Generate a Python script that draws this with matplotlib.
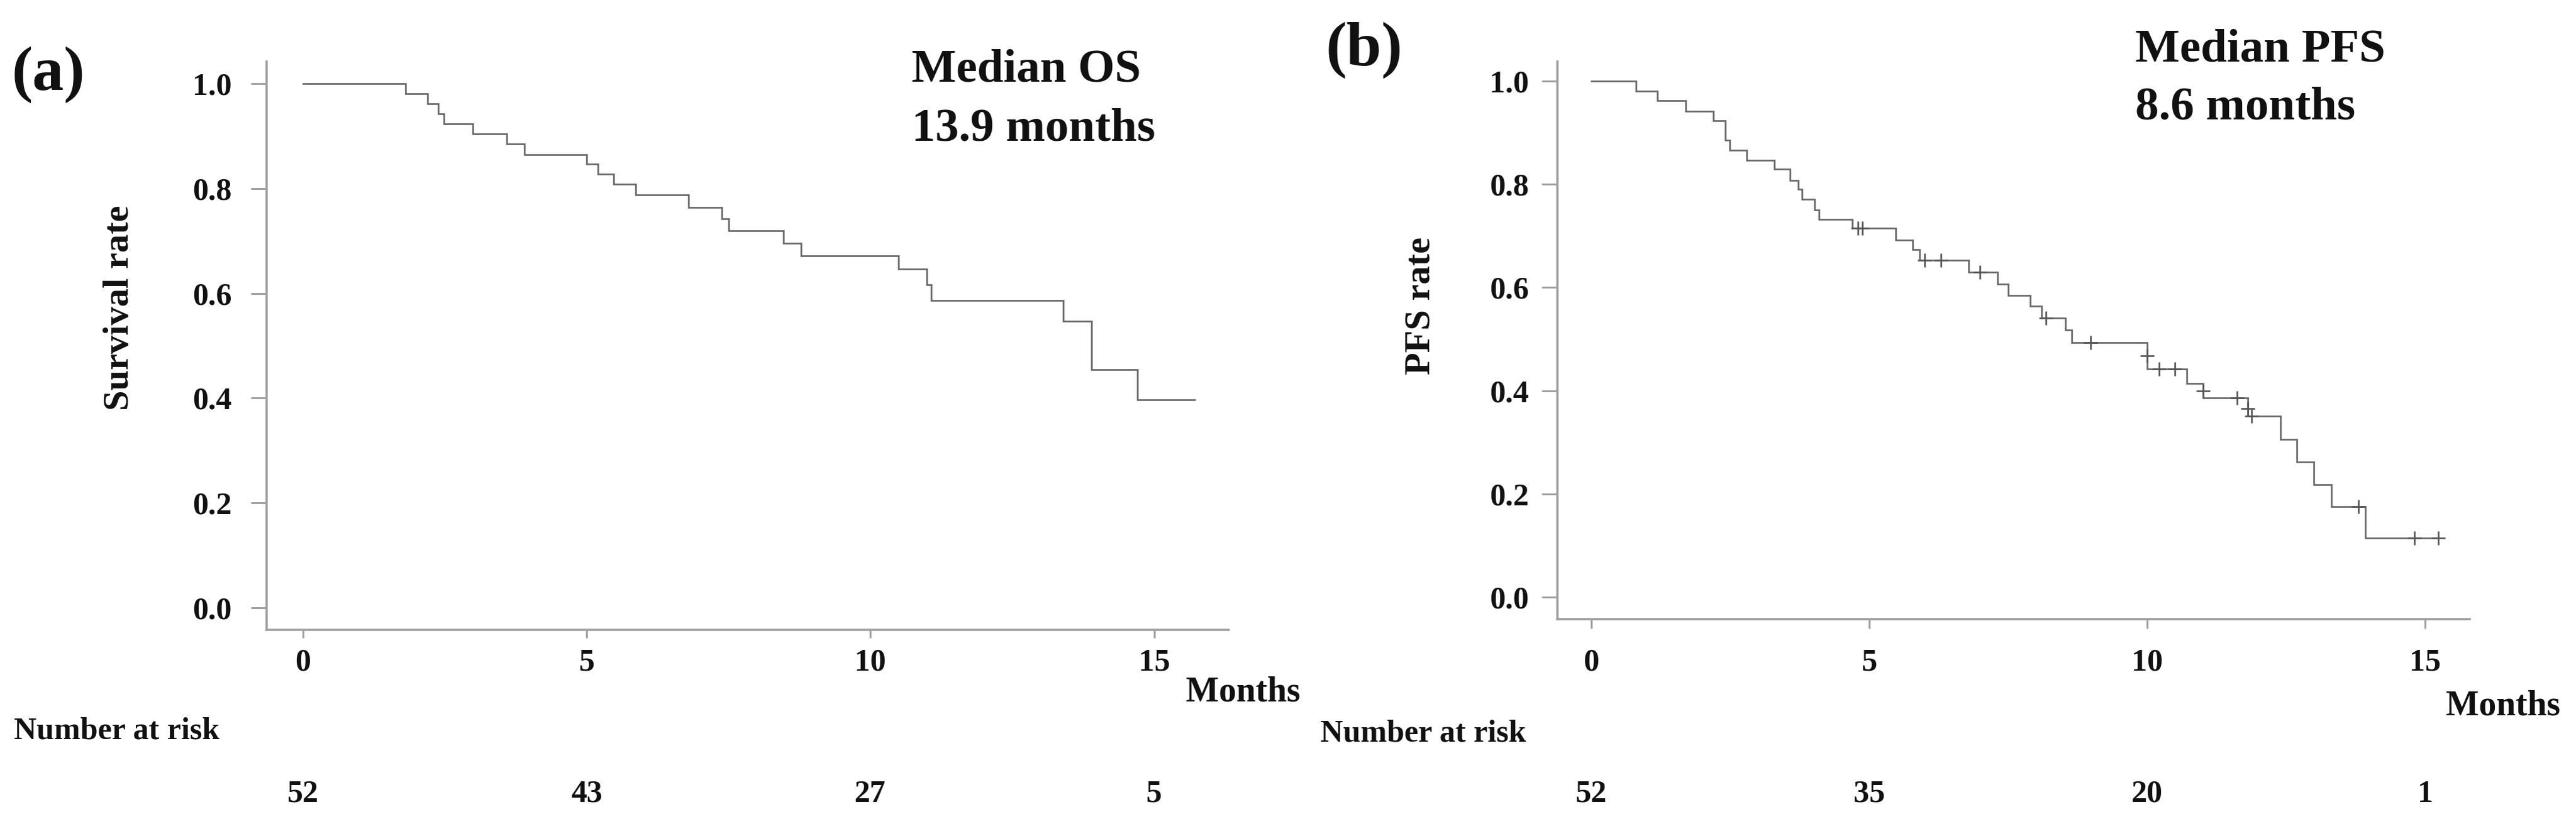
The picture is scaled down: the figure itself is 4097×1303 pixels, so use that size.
import matplotlib
matplotlib.use("Agg")
import matplotlib.pyplot as plt
import matplotlib.transforms as mtransforms

# ---------------- data ----------------
os_times = [0, 1.81, 2.20, 2.39, 2.49, 3.00, 3.59, 3.90, 5.00, 5.20, 5.48, 5.86,
            6.79, 7.38, 7.50, 8.47, 8.78, 10.50, 10.99, 11.07, 13.40, 13.89, 14.70]
os_surv = [1.0, 0.981, 0.962, 0.942, 0.923, 0.904, 0.885, 0.865, 0.846, 0.827, 0.808, 0.788,
           0.764, 0.742, 0.720, 0.695, 0.671, 0.646, 0.616, 0.586, 0.547, 0.455, 0.397]
os_end = 15.71

pfs_times = [0, 0.80, 1.19, 1.70, 2.19, 2.41, 2.49, 2.79, 3.29, 3.57, 3.72, 3.79, 4.01, 4.09,
             4.69, 5.48, 5.78, 5.90, 6.79, 7.31, 7.50, 7.89, 8.10, 8.53, 8.64, 10.00, 10.71,
             11.01, 11.81, 12.40, 12.69, 13.00, 13.31, 13.92]
pfs_surv = [1.0, 0.981, 0.962, 0.942, 0.923, 0.885, 0.866, 0.846, 0.829, 0.807, 0.790, 0.771,
            0.750, 0.732, 0.715, 0.692, 0.673, 0.653, 0.630, 0.607, 0.585, 0.564, 0.541, 0.518,
            0.493, 0.442, 0.414, 0.386, 0.351, 0.306, 0.262, 0.218, 0.175, 0.115]
pfs_end = 15.23

pfs_cens_t = [4.80, 4.87, 6.00, 6.29, 6.99, 8.18, 8.98, 10.00, 10.21, 10.50, 11.01, 11.61,
              11.81, 11.88, 13.80, 14.80, 15.23]
pfs_cens_s = [0.715, 0.715, 0.653, 0.653, 0.630, 0.541, 0.493, 0.468, 0.442, 0.442, 0.400, 0.386,
              0.366, 0.351, 0.175, 0.115, 0.115]

x_ticks = [0, 5, 10, 15]
y_ticks = [0.0, 0.2, 0.4, 0.6, 0.8, 1.0]
y_ticklabels = ["0.0", "0.2", "0.4", "0.6", "0.8", "1.0"]

risk_times = [0, 5, 10, 15]
risk_os = [52, 43, 27, 5]
risk_pfs = [52, 35, 20, 1]

median_os = "13.9"
median_pfs = "8.6"

# ---------------- layout ----------------
W, H = 4097, 1303
DPI = 100
plt.rcParams['font.family'] = ['Liberation Serif', 'DejaVu Serif']
plt.rcParams['font.weight'] = 'bold'

fig = plt.figure(figsize=(W / DPI, H / DPI), dpi=DPI)
fig.patch.set_facecolor('white')

def fx(x):
    return x / W

def fy(y):
    return 1 - y / H

CURVE = '#666666'
SPINE = '#a0a0a0'
TXT = '#111111'

def make_axes(l, r, t, b, xlim, ylim):
    ax = fig.add_axes([fx(l), fy(b), fx(r) - fx(l), fy(t) - fy(b)])
    ax.set_xlim(*xlim)
    ax.set_ylim(*ylim)
    for s in ['top', 'right']:
        ax.spines[s].set_visible(False)
    for s in ['left', 'bottom']:
        ax.spines[s].set_color(SPINE)
        ax.spines[s].set_linewidth(2.6)
    ax.set_xticks(x_ticks)
    ax.set_xticklabels([str(v) for v in x_ticks])
    ax.set_yticks(y_ticks)
    ax.set_yticklabels(y_ticklabels)
    for lab in ax.get_xticklabels() + ax.get_yticklabels():
        lab.set_fontsize(36)
        lab.set_fontweight('bold')
        lab.set_color(TXT)
    ax.set_facecolor('white')
    return ax

# Panel (a)
axa = make_axes(424, 1954, 98, 1002, (-0.637, 16.31), (-0.042, 1.042))
axa.tick_params(axis='y', length=18, width=2.2, color=SPINE, pad=22)
axa.tick_params(axis='x', length=9.5, width=2.2, color=SPINE, pad=11.5)

# Panel (b)
axb = make_axes(2477, 3928, 98, 985, (-0.61, 15.80), (-0.0426, 1.0378))
axb.tick_params(axis='y', length=18, width=2.2, color=SPINE, pad=15)
axb.tick_params(axis='x', length=10.5, width=2.2, color=SPINE, pad=23)

# curves
axa.step(os_times + [os_end], os_surv + [os_surv[-1]], where='post',
         color=CURVE, lw=1.9, solid_joinstyle='miter')
axb.step(pfs_times + [pfs_end], pfs_surv + [pfs_surv[-1]], where='post',
         color=CURVE, lw=1.9, solid_joinstyle='miter')
axb.plot(pfs_cens_t, pfs_cens_s, linestyle='none', marker='+', markersize=16,
         markeredgewidth=1.9, color='#555555')

# panel letters
fig.text(fx(19), fy(119), "(a)", fontsize=72, fontweight='bold', color=TXT,
         ha='left', va='center')
fig.text(fx(2109), fy(80), "(b)", fontsize=72, fontweight='bold', color=TXT,
         ha='left', va='center')

# y labels
fig.text(fx(190), fy(490), "Survival rate", fontsize=42, fontweight='bold', color=TXT,
         rotation=90, ha='center', va='center')
fig.text(fx(2260), fy(487), "PFS rate", fontsize=42, fontweight='bold', color=TXT,
         rotation=90, ha='center', va='center')

# medians
fig.text(fx(1450), fy(129), "Median OS", fontsize=54, fontweight='bold', color=TXT,
         ha='left', va='baseline')
fig.text(fx(1450), fy(223), median_os + " months", fontsize=54, fontweight='bold', color=TXT,
         ha='left', va='baseline')
fig.text(fx(3396), fy(98), "Median PFS", fontsize=54, fontweight='bold', color=TXT,
         ha='left', va='baseline')
fig.text(fx(3396), fy(189), median_pfs + " months", fontsize=54, fontweight='bold', color=TXT,
         ha='left', va='baseline')

# Months labels
fig.text(fx(1886), fy(1116), "Months", fontsize=40, fontweight='bold', color=TXT,
         ha='left', va='baseline')
fig.text(fx(3890), fy(1137), "Months", fontsize=40, fontweight='bold', color=TXT,
         ha='left', va='baseline')

# Number at risk
fig.text(fx(22), fy(1176), "Number at risk", fontsize=36, fontweight='bold', color=TXT,
         ha='left', va='baseline')
fig.text(fx(2100), fy(1179), "Number at risk", fontsize=36, fontweight='bold', color=TXT,
         ha='left', va='baseline')

tra = mtransforms.blended_transform_factory(axa.transData, fig.transFigure)
trb = mtransforms.blended_transform_factory(axb.transData, fig.transFigure)
for t, n in zip(risk_times, risk_os):
    fig.text(t, fy(1276), str(n), transform=tra, fontsize=36, fontweight='bold',
             color=TXT, ha='center', va='baseline')
for t, n in zip(risk_times, risk_pfs):
    fig.text(t, fy(1276), str(n), transform=trb, fontsize=36, fontweight='bold',
             color=TXT, ha='center', va='baseline')

fig.savefig("out.png", dpi=DPI, facecolor='white')
